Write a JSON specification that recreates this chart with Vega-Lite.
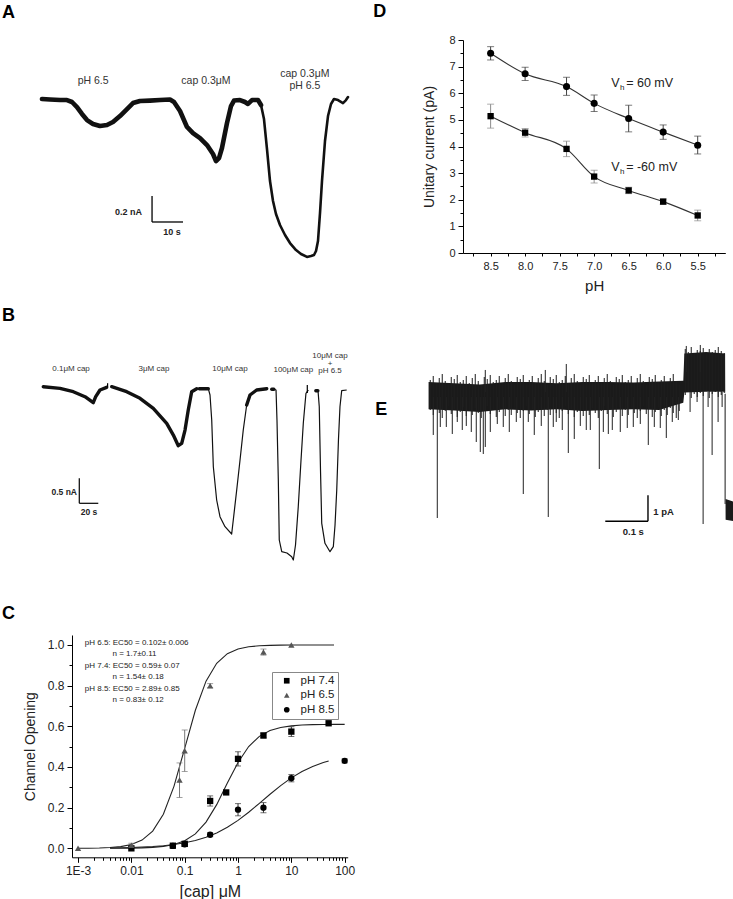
{
  "$schema": "https://vega.github.io/schema/vega-lite/v6.json",
  "background": "white",
  "padding": {"left": 2, "top": 3, "right": 0, "bottom": 0},
  "config": {
    "view": {"stroke": null},
    "font": "Liberation Sans",
    "text": {"font": "Liberation Sans"},
    "axis": {"grid": false, "domainColor": "black", "tickColor": "black", "domainWidth": 1, "tickWidth": 1, "labelColor": "#222", "titleColor": "#222", "titleFontWeight": "normal", "labelFont": "Liberation Sans", "titleFont": "Liberation Sans"},
    "title": {"font": "Liberation Sans", "fontSize": 18, "fontWeight": "bold", "anchor": "start", "frame": "group", "color": "black", "baseline": "alphabetic"}
  },
  "datasets": {
    "A_trace": [
      {"t":0,"I":0},{"t":2.58,"I":-0.004},{"t":5.81,"I":-0.008},{"t":8.06,"I":-0.008},{"t":9.68,"I":-0.023},{"t":11.29,"I":-0.062},{"t":12.9,"I":-0.115},{"t":14.52,"I":-0.162},{"t":16.45,"I":-0.192},{"t":18.71,"I":-0.208},{"t":20.97,"I":-0.2},{"t":22.9,"I":-0.177},{"t":25.16,"I":-0.131},{"t":27.42,"I":-0.077},{"t":29.35,"I":-0.031},{"t":31.61,"I":-0.015},{"t":34.84,"I":-0.012},{"t":38.06,"I":-0.008},{"t":41.29,"I":-0.004},{"t":42.58,"I":-0.023},{"t":44.52,"I":-0.092},{"t":46.77,"I":-0.215},{"t":48.71,"I":-0.262},{"t":50.97,"I":-0.3},{"t":53.23,"I":-0.354},{"t":55.16,"I":-0.423},{"t":56.13,"I":-0.477},{"t":57.1,"I":-0.454},{"t":58.06,"I":-0.377},{"t":59.68,"I":-0.185},{"t":60.97,"I":-0.054},{"t":61.94,"I":-0.012},{"t":63.87,"I":-0.008},{"t":65.48,"I":-0.023},{"t":66.45,"I":-0.038},{"t":67.74,"I":-0.008},{"t":69.68,"I":-0.008},{"t":70.65,"I":-0.046},{"t":71.61,"I":-0.154},{"t":72.58,"I":-0.385},{"t":73.55,"I":-0.631},{"t":74.52,"I":-0.785},{"t":75.48,"I":-0.885},{"t":76.77,"I":-0.969},{"t":78.39,"I":-1.046},{"t":80,"I":-1.108},{"t":81.94,"I":-1.162},{"t":83.55,"I":-1.192},{"t":85.48,"I":-1.215},{"t":86.77,"I":-1.208},{"t":87.74,"I":-1.2},{"t":88.39,"I":-1.169},{"t":89.03,"I":-1.092},{"t":89.68,"I":-0.877},{"t":90.32,"I":-0.631},{"t":91.29,"I":-0.323},{"t":92.26,"I":-0.131},{"t":93.23,"I":-0.038},{"t":94.19,"I":0},{"t":95.48,"I":-0.008},{"t":97.1,"I":-0.031},{"t":98.06,"I":-0.008},{"t":98.71,"I":0.015}
    ],
    "B_trace": [
      {"seg":"s1","w":"thick","t":0.3,"I":0},{"seg":"s1","w":"thick","t":17.9,"I":-0.033},{"seg":"s1","w":"thick","t":31.9,"I":-0.1},{"seg":"s1","w":"thick","t":44.2,"I":-0.2},{"seg":"s1","w":"thick","t":52.9,"I":-0.32},{"seg":"s1","w":"thick","t":55.5,"I":-0.2},{"seg":"s1","w":"thick","t":60,"I":-0.066},{"seg":"s1","w":"thick","t":67,"I":-0.012},
      {"seg":"s2","w":"thick","t":72.3,"I":0},{"seg":"s2","w":"thick","t":88.1,"I":-0.1},{"seg":"s2","w":"thick","t":102.1,"I":-0.233},{"seg":"s2","w":"thick","t":116.1,"I":-0.433},{"seg":"s2","w":"thick","t":130.2,"I":-0.733},{"seg":"s2","w":"thick","t":137.2,"I":-0.967},{"seg":"s2","w":"thick","t":142.4,"I":-1.18},{"seg":"s2","w":"thick","t":146,"I":-1.133},{"seg":"s2","w":"thick","t":149.5,"I":-0.867},{"seg":"s2","w":"thick","t":152.9,"I":-0.467},{"seg":"s2","w":"thick","t":156.5,"I":-0.1},{"seg":"s2","w":"thick","t":161.8,"I":-0.04},
      {"seg":"s3a","w":"thick","t":164.5,"I":-0.04},{"seg":"s3a","w":"thick","t":174,"I":-0.04},
      {"seg":"s3","w":"thin","t":174,"I":-0.04},{"seg":"s3","w":"thin","t":175.8,"I":-0.166},{"seg":"s3","w":"thin","t":177.6,"I":-0.666},{"seg":"s3","w":"thin","t":179.3,"I":-1.6},{"seg":"s3","w":"thin","t":182.8,"I":-2.266},{"seg":"s3","w":"thin","t":186.3,"I":-2.6},{"seg":"s3","w":"thin","t":191.6,"I":-2.8},{"seg":"s3","w":"thin","t":198.6,"I":-2.946},{"seg":"s3","w":"thin","t":200.3,"I":-2.666},{"seg":"s3","w":"thin","t":203.9,"I":-2.066},{"seg":"s3","w":"thin","t":207.4,"I":-1.466},{"seg":"s3","w":"thin","t":210.8,"I":-0.866},{"seg":"s3","w":"thin","t":214.4,"I":-0.366},
      {"seg":"s3b","w":"thick","t":214.4,"I":-0.366},{"seg":"s3b","w":"thick","t":217.9,"I":-0.166},{"seg":"s3b","w":"thick","t":224.9,"I":-0.066},{"seg":"s3b","w":"thick","t":235.5,"I":-0.04},
      {"seg":"s4a","w":"thick","t":240.8,"I":-0.05},{"seg":"s4a","w":"thick","t":243,"I":-0.05},
      {"seg":"s4","w":"thin","t":243,"I":-0.05},{"seg":"s4","w":"thin","t":245.3,"I":-0.066},{"seg":"s4","w":"thin","t":246.3,"I":-0.666},{"seg":"s4","w":"thin","t":247.7,"I":-1.866},{"seg":"s4","w":"thin","t":248.7,"I":-3.066},{"seg":"s4","w":"thin","t":251.3,"I":-3.3},{"seg":"s4","w":"thin","t":256.8,"I":-3.326},{"seg":"s4","w":"thin","t":261.8,"I":-3.4},{"seg":"s4","w":"thin","t":263.5,"I":-3.466},{"seg":"s4","w":"thin","t":265.8,"I":-3.166},{"seg":"s4","w":"thin","t":268.7,"I":-2.4},{"seg":"s4","w":"thin","t":271.6,"I":-1.466},{"seg":"s4","w":"thin","t":274,"I":-0.732},{"seg":"s4","w":"thin","t":276.8,"I":-0.132},{"seg":"s4","w":"thin","t":279.3,"I":-0.066},
      {"seg":"s5a","w":"thick","t":287.2,"I":-0.08},{"seg":"s5a","w":"thick","t":289.3,"I":-0.08},
      {"seg":"s5","w":"thin","t":289.5,"I":-0.08},{"seg":"s5","w":"thin","t":290.8,"I":-0.4},{"seg":"s5","w":"thin","t":292.1,"I":-1.666},{"seg":"s5","w":"thin","t":293.4,"I":-2.732},{"seg":"s5","w":"thin","t":296.8,"I":-3.132},{"seg":"s5","w":"thin","t":302.1,"I":-3.3},{"seg":"s5","w":"thin","t":305.6,"I":-3.2},{"seg":"s5","w":"thin","t":307.4,"I":-2.766},{"seg":"s5","w":"thin","t":309.2,"I":-2.066},{"seg":"s5","w":"thin","t":311,"I":-1.066},{"seg":"s5","w":"thin","t":312.6,"I":-0.4},{"seg":"s5","w":"thin","t":314.4,"I":-0.08},{"seg":"s5","w":"thin","t":319.7,"I":-0.066}
    ],
    "C_curves": [
      {"s":"6.5","c":0.001,"v":0.0004},{"s":"6.5","c":0.001585,"v":0.0008},{"s":"6.5","c":0.002512,"v":0.0018},{"s":"6.5","c":0.003981,"v":0.004},{"s":"6.5","c":0.00631,"v":0.0087},{"s":"6.5","c":0.01,"v":0.019},{"s":"6.5","c":0.01585,"v":0.0405},{"s":"6.5","c":0.02512,"v":0.0845},{"s":"6.5","c":0.03981,"v":0.168},{"s":"6.5","c":0.0631,"v":0.306},{"s":"6.5","c":0.1,"v":0.492},{"s":"6.5","c":0.1585,"v":0.679},{"s":"6.5","c":0.2512,"v":0.822},{"s":"6.5","c":0.3981,"v":0.91},{"s":"6.5","c":0.631,"v":0.957},{"s":"6.5","c":1,"v":0.98},{"s":"6.5","c":1.585,"v":0.991},{"s":"6.5","c":2.512,"v":0.996},{"s":"6.5","c":3.981,"v":0.998},{"s":"6.5","c":6.31,"v":0.999},{"s":"6.5","c":10,"v":1.0},{"s":"6.5","c":15.85,"v":1.0},{"s":"6.5","c":25.12,"v":1.0},{"s":"6.5","c":39.81,"v":1.0},{"s":"6.5","c":63.1,"v":1.0},
      {"s":"7.4","c":0.003981,"v":0.0003},{"s":"7.4","c":0.00631,"v":0.0006},{"s":"7.4","c":0.01,"v":0.0011},{"s":"7.4","c":0.01585,"v":0.0023},{"s":"7.4","c":0.02512,"v":0.0047},{"s":"7.4","c":0.03981,"v":0.0095},{"s":"7.4","c":0.0631,"v":0.0189},{"s":"7.4","c":0.1,"v":0.0372},{"s":"7.4","c":0.1585,"v":0.0712},{"s":"7.4","c":0.2512,"v":0.129},{"s":"7.4","c":0.3981,"v":0.215},{"s":"7.4","c":0.631,"v":0.321},{"s":"7.4","c":1,"v":0.4225},{"s":"7.4","c":1.585,"v":0.5006},{"s":"7.4","c":2.512,"v":0.5508},{"s":"7.4","c":3.981,"v":0.5794},{"s":"7.4","c":6.31,"v":0.5945},{"s":"7.4","c":10,"v":0.6023},{"s":"7.4","c":15.85,"v":0.6062},{"s":"7.4","c":25.12,"v":0.6081},{"s":"7.4","c":39.81,"v":0.609},{"s":"7.4","c":63.1,"v":0.6095},{"s":"7.4","c":100,"v":0.6098},
      {"s":"8.5","c":0.003981,"v":0.002},{"s":"8.5","c":0.00631,"v":0.0029},{"s":"8.5","c":0.01,"v":0.0042},{"s":"8.5","c":0.01585,"v":0.0062},{"s":"8.5","c":0.02512,"v":0.009},{"s":"8.5","c":0.03981,"v":0.013},{"s":"8.5","c":0.0631,"v":0.0189},{"s":"8.5","c":0.1,"v":0.0272},{"s":"8.5","c":0.1585,"v":0.0387},{"s":"8.5","c":0.2512,"v":0.0546},{"s":"8.5","c":0.3981,"v":0.076},{"s":"8.5","c":0.631,"v":0.1036},{"s":"8.5","c":1,"v":0.1377},{"s":"8.5","c":1.585,"v":0.1776},{"s":"8.5","c":2.512,"v":0.2214},{"s":"8.5","c":3.981,"v":0.2661},{"s":"8.5","c":6.31,"v":0.3086},{"s":"8.5","c":10,"v":0.3464},{"s":"8.5","c":15.85,"v":0.378},{"s":"8.5","c":25.12,"v":0.403},{"s":"8.5","c":39.81,"v":0.4221},{"s":"8.5","c":50.12,"v":0.4297}
    ],
    "C_points": [
      {"s":"pH 7.4","c":0.01,"v":0.0},{"s":"pH 7.4","c":0.06,"v":0.013},{"s":"pH 7.4","c":0.1,"v":0.022,"lo":0.01,"hi":0.034},{"s":"pH 7.4","c":0.3,"v":0.233,"lo":0.208,"hi":0.258},{"s":"pH 7.4","c":0.6,"v":0.275},{"s":"pH 7.4","c":1,"v":0.44,"lo":0.405,"hi":0.475},{"s":"pH 7.4","c":3,"v":0.555,"lo":0.543,"hi":0.567},{"s":"pH 7.4","c":10,"v":0.574,"lo":0.55,"hi":0.598},{"s":"pH 7.4","c":50,"v":0.615},
      {"s":"pH 6.5","c":0.001,"v":0.0},{"s":"pH 6.5","c":0.01,"v":0.015,"lo":0.005,"hi":0.025},{"s":"pH 6.5","c":0.08,"v":0.336,"lo":0.25,"hi":0.42},{"s":"pH 6.5","c":0.1,"v":0.48,"lo":0.378,"hi":0.582},{"s":"pH 6.5","c":0.3,"v":0.8,"lo":0.79,"hi":0.81},{"s":"pH 6.5","c":3,"v":0.965,"lo":0.95,"hi":0.98},{"s":"pH 6.5","c":10,"v":1.0},
      {"s":"pH 8.5","c":0.06,"v":0.012},{"s":"pH 8.5","c":0.1,"v":0.02,"lo":0.01,"hi":0.03},{"s":"pH 8.5","c":0.3,"v":0.067,"lo":0.057,"hi":0.077},{"s":"pH 8.5","c":1,"v":0.19,"lo":0.16,"hi":0.22},{"s":"pH 8.5","c":3,"v":0.2,"lo":0.175,"hi":0.225},{"s":"pH 8.5","c":10,"v":0.345,"lo":0.327,"hi":0.363},{"s":"pH 8.5","c":100,"v":0.43,"lo":0.42,"hi":0.44}
    ],
    "D_points": [
      {"s":"up","pH":8.5,"cur":7.5,"lo":7.25,"hi":7.75},{"s":"up","pH":8.0,"cur":6.73,"lo":6.48,"hi":6.98},{"s":"up","pH":7.4,"cur":6.25,"lo":5.92,"hi":6.6},{"s":"up","pH":7.0,"cur":5.62,"lo":5.31,"hi":5.93},{"s":"up","pH":6.5,"cur":5.05,"lo":4.55,"hi":5.55},{"s":"up","pH":6.0,"cur":4.54,"lo":4.27,"hi":4.81},{"s":"up","pH":5.5,"cur":4.05,"lo":3.72,"hi":4.39},
      {"s":"down","pH":8.5,"cur":5.14,"lo":4.69,"hi":5.59},{"s":"down","pH":8.0,"cur":4.52,"lo":4.36,"hi":4.68},{"s":"down","pH":7.4,"cur":3.91,"lo":3.62,"hi":4.2},{"s":"down","pH":7.0,"cur":2.87,"lo":2.63,"hi":3.11},{"s":"down","pH":6.5,"cur":2.35,"lo":2.23,"hi":2.47},{"s":"down","pH":6.0,"cur":1.93,"lo":1.83,"hi":2.03},{"s":"down","pH":5.5,"cur":1.41,"lo":1.21,"hi":1.61}
    ],
    "E_band": [
      {"t":0,"I":0.5,"I2":-0.55},{"t":0.06,"I":0.45,"I2":-0.6},{"t":0.12,"I":0.4,"I2":-0.65},{"t":0.18,"I":0.5,"I2":-0.55},{"t":0.24,"I":0.5,"I2":-0.6},{"t":0.3,"I":0.45,"I2":-0.55},{"t":0.36,"I":0.5,"I2":-0.62},{"t":0.42,"I":0.5,"I2":-0.58},{"t":0.48,"I":0.48,"I2":-0.55},{"t":0.54,"I":0.52,"I2":-0.58},{"t":0.5965,"I":0.55,"I2":-0.3},
      {"t":0.599,"I":1.6,"I2":0.1},{"t":0.65,"I":1.65,"I2":0.12},{"t":0.6944,"I":1.6,"I2":0.12},{"t":0.6956,"I":-4.0,"I2":-4.8},{"t":0.7136,"I":-4.1,"I2":-4.85}
    ],
    "E_texture": [
      {"t":0.004,"I":0.577,"I2":-0.577},{"t":0.011,"I":0.731,"I2":-0.769},{"t":0.018,"I":0.462,"I2":-0.5},{"t":0.0251,"I":0.654,"I2":-0.692},{"t":0.0321,"I":0.808,"I2":-0.885},{"t":0.0391,"I":0.538,"I2":-0.615},{"t":0.0461,"I":0.385,"I2":-0.423},{"t":0.0532,"I":0.692,"I2":-0.731},{"t":0.0602,"I":0.615,"I2":-0.538},{"t":0.0672,"I":0.769,"I2":-0.846},{"t":0.0742,"I":0.5,"I2":-0.654},{"t":0.0813,"I":0.577,"I2":-0.462},{"t":0.0883,"I":0.731,"I2":-0.808},{"t":0.0953,"I":0.462,"I2":-0.577},{"t":0.1024,"I":0.654,"I2":-0.769},{"t":0.1094,"I":0.808,"I2":-0.5},{"t":0.1164,"I":0.538,"I2":-0.692},{"t":0.1234,"I":0.385,"I2":-0.885},{"t":0.1305,"I":0.692,"I2":-0.615},{"t":0.1375,"I":0.615,"I2":-0.423},{"t":0.1445,"I":0.769,"I2":-0.731},{"t":0.1515,"I":0.5,"I2":-0.538},{"t":0.1586,"I":0.577,"I2":-0.846},{"t":0.1656,"I":0.731,"I2":-0.654},{"t":0.1726,"I":0.462,"I2":-0.462},{"t":0.1796,"I":0.654,"I2":-0.808},{"t":0.1867,"I":0.808,"I2":-0.577},{"t":0.1937,"I":0.538,"I2":-0.769},{"t":0.2007,"I":0.385,"I2":-0.5},{"t":0.2077,"I":0.692,"I2":-0.692},{"t":0.2148,"I":0.615,"I2":-0.885},{"t":0.2218,"I":0.769,"I2":-0.615},{"t":0.2288,"I":0.5,"I2":-0.423},{"t":0.2359,"I":0.577,"I2":-0.731},{"t":0.2429,"I":0.731,"I2":-0.538},{"t":0.2499,"I":0.462,"I2":-0.846},{"t":0.2569,"I":0.654,"I2":-0.654},{"t":0.264,"I":0.808,"I2":-0.462},{"t":0.271,"I":0.538,"I2":-0.808},{"t":0.278,"I":0.385,"I2":-0.577},{"t":0.285,"I":0.692,"I2":-0.769},{"t":0.2921,"I":0.615,"I2":-0.5},{"t":0.2991,"I":0.769,"I2":-0.692},{"t":0.3061,"I":0.5,"I2":-0.885},{"t":0.3131,"I":0.577,"I2":-0.615},{"t":0.3202,"I":0.731,"I2":-0.423},{"t":0.3272,"I":0.462,"I2":-0.731},{"t":0.3342,"I":0.654,"I2":-0.538},{"t":0.3412,"I":0.808,"I2":-0.846},{"t":0.3483,"I":0.538,"I2":-0.654},{"t":0.3553,"I":0.385,"I2":-0.462},{"t":0.3623,"I":0.692,"I2":-0.808},{"t":0.3693,"I":0.615,"I2":-0.577},{"t":0.3764,"I":0.769,"I2":-0.769},{"t":0.3834,"I":0.5,"I2":-0.5},{"t":0.3904,"I":0.577,"I2":-0.692},{"t":0.3975,"I":0.731,"I2":-0.885},{"t":0.4045,"I":0.462,"I2":-0.615},{"t":0.4115,"I":0.654,"I2":-0.423},{"t":0.4185,"I":0.808,"I2":-0.731},{"t":0.4256,"I":0.538,"I2":-0.538},{"t":0.4326,"I":0.385,"I2":-0.846},{"t":0.4396,"I":0.692,"I2":-0.654},{"t":0.4466,"I":0.615,"I2":-0.462},{"t":0.4537,"I":0.769,"I2":-0.808},{"t":0.4607,"I":0.5,"I2":-0.577},{"t":0.4677,"I":0.577,"I2":-0.769},{"t":0.4747,"I":0.731,"I2":-0.5},{"t":0.4818,"I":0.462,"I2":-0.692},{"t":0.4888,"I":0.654,"I2":-0.885},{"t":0.4958,"I":0.808,"I2":-0.615},{"t":0.5028,"I":0.538,"I2":-0.423},{"t":0.5099,"I":0.385,"I2":-0.731},{"t":0.5169,"I":0.692,"I2":-0.538},{"t":0.5239,"I":0.615,"I2":-0.846},{"t":0.5309,"I":0.769,"I2":-0.654},{"t":0.538,"I":0.5,"I2":-0.462},{"t":0.545,"I":0.577,"I2":-0.808},{"t":0.552,"I":0.731,"I2":-0.577},{"t":0.559,"I":0.462,"I2":-0.769},{"t":0.5661,"I":0.654,"I2":-0.5},{"t":0.5731,"I":0.808,"I2":-0.692},{"t":0.5801,"I":0.538,"I2":-0.885},{"t":0.5871,"I":0.385,"I2":-0.615},
      {"t":0.6012,"I":1.769,"I2":0},{"t":0.6082,"I":1.654,"I2":0.115},{"t":0.6152,"I":1.846,"I2":-0.115},{"t":0.6222,"I":1.577,"I2":0.038},{"t":0.6293,"I":1.731,"I2":-0.077},{"t":0.6363,"I":1.692,"I2":0.077},{"t":0.6433,"I":1.808,"I2":-0.038},{"t":0.6503,"I":1.615,"I2":0.154},{"t":0.6574,"I":1.769,"I2":-0.115},{"t":0.6644,"I":1.654,"I2":0.038},{"t":0.6714,"I":1.731,"I2":0.115},{"t":0.6785,"I":1.846,"I2":-0.077},{"t":0.6855,"I":1.692,"I2":0},{"t":0.6925,"I":1.615,"I2":0.077}
    ],
    "E_spikes": [
      {"t":0.011,"I":-0.077,"I2":-1.538},{"t":0.0204,"I":-0.077,"I2":-4.731},{"t":0.0274,"I":-0.077,"I2":-1.231},{"t":0.0415,"I":-0.077,"I2":-1.231},{"t":0.0555,"I":-0.077,"I2":-1.5},{"t":0.0672,"I":-0.077,"I2":-1.038},{"t":0.0789,"I":-0.077,"I2":-1.346},{"t":0.0883,"I":-0.077,"I2":-1.192},{"t":0.1,"I":-0.077,"I2":-1.423},{"t":0.1117,"I":-0.077,"I2":-1.808},{"t":0.1211,"I":-0.077,"I2":-2.192},{"t":0.1281,"I":-0.077,"I2":-2.269},{"t":0.1328,"I":-0.077,"I2":-2},{"t":0.1445,"I":-0.077,"I2":-1.423},{"t":0.1609,"I":-0.077,"I2":-1.115},{"t":0.1749,"I":-0.077,"I2":-1.231},{"t":0.189,"I":-0.077,"I2":-1.423},{"t":0.2054,"I":-0.077,"I2":-1.038},{"t":0.2218,"I":-0.077,"I2":-3.808},{"t":0.2335,"I":-0.077,"I2":-1.038},{"t":0.2475,"I":-0.077,"I2":-1.538},{"t":0.2639,"I":-0.077,"I2":-1.192},{"t":0.2803,"I":-0.077,"I2":-4.692},{"t":0.292,"I":-0.077,"I2":-1.231},{"t":0.299,"I":-0.077,"I2":-1.038},{"t":0.3131,"I":-0.077,"I2":-1.346},{"t":0.3272,"I":-0.077,"I2":-2.231},{"t":0.3412,"I":-0.077,"I2":-1.692},{"t":0.3553,"I":-0.077,"I2":-1.192},{"t":0.3693,"I":-0.077,"I2":-1.346},{"t":0.3787,"I":-0.077,"I2":-1.346},{"t":0.3998,"I":-0.077,"I2":-2.846},{"t":0.4092,"I":-0.077,"I2":-1.423},{"t":0.4209,"I":-0.077,"I2":-1.5},{"t":0.4302,"I":-0.077,"I2":-1.346},{"t":0.4489,"I":-0.077,"I2":-1.423},{"t":0.4653,"I":-0.077,"I2":-1.269},{"t":0.4794,"I":-0.077,"I2":-1.231},{"t":0.4958,"I":-0.077,"I2":-1.115},{"t":0.5145,"I":-0.077,"I2":-1.923},{"t":0.5286,"I":-0.077,"I2":-1.231},{"t":0.5426,"I":-0.077,"I2":-1.269},{"t":0.5567,"I":-0.077,"I2":-1.654},{"t":0.5707,"I":-0.077,"I2":-1.038},{"t":0.5848,"I":-0.077,"I2":-0.962},
      {"t":0.6124,"I":0.115,"I2":-0.654},{"t":0.6288,"I":0.115,"I2":-0.269},{"t":0.6429,"I":0.115,"I2":-4.962},{"t":0.6546,"I":0.115,"I2":-0.462},{"t":0.664,"I":0.115,"I2":-2.308},{"t":0.678,"I":0.115,"I2":-1.038},{"t":0.6874,"I":0.115,"I2":-0.462},
      {"t":0.3225,"I":0.115,"I2":1.192},{"t":0.1328,"I":0.115,"I2":0.962},{"t":0.2733,"I":0.115,"I2":0.962},
      {"t":0.6035,"I":0.885,"I2":1.885},{"t":0.6363,"I":0.885,"I2":1.923},
      {"t":0.6944,"I":0.038,"I2":-4.192}
    ]
  },
  "spacing": 18,
  "hconcat": [
    {
      "spacing": 10,
      "vconcat": [
        {
          "title": {"text": "A", "dx": -70, "offset": 18},
          "width": 276, "height": 257,
          "encoding": {
            "x": {"field": "t", "type": "quantitative", "scale": {"domain": [9.68, 98.71], "nice": false, "zero": false}, "axis": null},
            "y": {"field": "I", "type": "quantitative", "scale": {"domain": [-1.523, 0.454], "nice": false, "zero": false}, "axis": null}
          },
          "layer": [
            {"data": {"name": "A_trace"}, "mark": {"type": "line", "color": "#111", "strokeWidth": 2.6, "strokeJoin": "round", "strokeCap": "round"}},
            {"data": {"name": "A_trace"}, "transform": [{"filter": "datum.t <= 70.7"}], "mark": {"type": "line", "color": "#111", "strokeWidth": 4.6, "strokeJoin": "round", "strokeCap": "round"}},
            {"data": {"values": [{"t": 35.5, "I": -0.746, "t2": 35.5, "I2": -0.946}, {"t": 35.5, "I": -0.946, "t2": 45.5, "I2": -0.946}]}, "mark": {"type": "rule", "color": "black", "strokeWidth": 1.3}, "encoding": {"x2": {"field": "t2"}, "y2": {"field": "I2"}}},
            {"data": {"values": [{"label": "pH 6.5", "t": 16.5, "I": 0.138}, {"label": "cap 0.3μM", "t": 52.9, "I": 0.138}, {"label": "cap 0.3μM", "t": 84.8, "I": 0.192}, {"label": "pH 6.5", "t": 84.8, "I": 0.1}]}, "mark": {"type": "text", "fontSize": 10.5, "color": "#333", "baseline": "middle"}, "encoding": {"text": {"field": "label"}}},
            {"data": {"values": [{"label": "0.2 nA", "t": 32.26, "I": -0.869}]}, "mark": {"type": "text", "fontSize": 9, "fontWeight": "bold", "color": "#222", "align": "right", "baseline": "middle"}, "encoding": {"text": {"field": "label"}}},
            {"data": {"values": [{"label": "10 s", "t": 41.94, "I": -1.023}]}, "mark": {"type": "text", "fontSize": 9, "fontWeight": "bold", "color": "#222", "align": "center", "baseline": "middle"}, "encoding": {"text": {"field": "label"}}}
          ]
        },
        {
          "title": {"text": "B", "dx": -70, "offset": 5},
          "width": 276, "height": 264.5,
          "encoding": {
            "x": {"field": "t", "type": "quantitative", "scale": {"domain": [30.53, 321.05], "nice": false, "zero": false}, "axis": null},
            "y": {"field": "I", "type": "quantitative", "scale": {"domain": [-4.156, 1.134], "nice": false, "zero": false}, "axis": null}
          },
          "layer": [
            {"data": {"name": "B_trace"}, "transform": [{"filter": "datum.w == 'thin'"}], "mark": {"type": "line", "color": "#111", "strokeWidth": 1.2, "strokeJoin": "round"}, "encoding": {"detail": {"field": "seg"}}},
            {"data": {"name": "B_trace"}, "transform": [{"filter": "datum.w == 'thick'"}], "mark": {"type": "line", "color": "#111", "strokeWidth": 3.4, "strokeJoin": "round", "strokeCap": "round"}, "encoding": {"detail": {"field": "seg"}}},
            {"data": {"values": [{"t": 68, "I": 0.07, "t2": 68, "I2": -0.01}, {"t": 278.2, "I": 0.034, "t2": 278.2, "I2": -0.126}, {"t": 38.2, "I": -1.832, "t2": 38.2, "I2": -2.332}, {"t": 38.2, "I": -2.332, "t2": 58.2, "I2": -2.332}]}, "mark": {"type": "rule", "color": "black", "strokeWidth": 1.2}, "encoding": {"x2": {"field": "t2"}, "y2": {"field": "I2"}}},
            {"data": {"values": [{"label": "0.1μM cap", "t": 29.5, "I": 0.354}, {"label": "3μM cap", "t": 116.8, "I": 0.354}, {"label": "10μM cap", "t": 196.8, "I": 0.354}, {"label": "100μM cap", "t": 263.5, "I": 0.334}, {"label": "10μM cap", "t": 302.1, "I": 0.614}, {"label": "+", "t": 302.1, "I": 0.464}, {"label": "pH 6.5", "t": 302.1, "I": 0.314}]}, "mark": {"type": "text", "fontSize": 8, "color": "#333", "baseline": "middle"}, "encoding": {"text": {"field": "label"}}},
            {"data": {"values": [{"label": "0.5 nA", "t": 35.8, "I": -2.106}]}, "mark": {"type": "text", "fontSize": 8.5, "fontWeight": "bold", "color": "#222", "align": "right", "baseline": "middle"}, "encoding": {"text": {"field": "label"}}},
            {"data": {"values": [{"label": "20 s", "t": 48.4, "I": -2.506}]}, "mark": {"type": "text", "fontSize": 8.5, "fontWeight": "bold", "color": "#222", "align": "center", "baseline": "middle"}, "encoding": {"text": {"field": "label"}}}
          ]
        },
        {
          "title": {"text": "C", "dx": -70, "offset": 12},
          "width": 275.7, "height": 222.3,
          "encoding": {
            "x": {"field": "c", "type": "quantitative", "scale": {"type": "log", "domain": [0.00077, 114], "nice": false},
              "axis": {"values": [0.001,0.002,0.003,0.004,0.005,0.006,0.007,0.008,0.009,0.01,0.02,0.03,0.04,0.05,0.06,0.07,0.08,0.09,0.1,0.2,0.3,0.4,0.5,0.6,0.7,0.8,0.9,1,2,3,4,5,6,7,8,9,10,20,30,40,50,60,70,80,90,100],
                "labelExpr": "datum.value == 0.001 ? '1E-3' : datum.value == 0.01 ? '0.01' : datum.value == 0.1 ? '0.1' : datum.value == 1 ? '1' : datum.value == 10 ? '10' : datum.value == 100 ? '100' : ''",
                "tickSize": {"condition": {"test": "indexof([0.001,0.01,0.1,1,10,100], datum.value) >= 0", "value": 5}, "value": 3},
                "labelOverlap": false, "labelFlush": false, "labelFontSize": 12, "labelPadding": 3, "title": "[cap] μM", "titleFontSize": 16, "titlePadding": 7}},
            "y": {"field": "v", "type": "quantitative", "scale": {"domain": [-0.044, 1.049], "nice": false, "zero": false},
              "axis": {"values": [0,0.1,0.2,0.3,0.4,0.5,0.6,0.7,0.8,0.9,1.0],
                "labelExpr": "round(datum.value*10) % 2 == 0 ? format(datum.value, '.1f') : ''",
                "tickSize": {"condition": {"test": "round(datum.value*10) % 2 == 0", "value": 5}, "value": 3},
                "labelOverlap": false, "labelFontSize": 12, "labelPadding": 3, "title": "Channel Opening", "titleFontSize": 14, "titlePadding": 10}}
          },
          "layer": [
            {"data": {"name": "C_curves"}, "mark": {"type": "line", "color": "#222", "strokeWidth": 1.1}, "encoding": {"detail": {"field": "s"}}},
            {"data": {"name": "C_points"}, "transform": [{"filter": "isValid(datum.lo) && datum.s != 'pH 6.5'"}], "mark": {"type": "rule", "strokeWidth": 1, "color": "#333"}, "encoding": {"y": {"field": "lo"}, "y2": {"field": "hi"}}},
            {"data": {"name": "C_points"}, "transform": [{"filter": "isValid(datum.lo) && datum.s == 'pH 6.5'"}], "mark": {"type": "rule", "strokeWidth": 1, "color": "#777"}, "encoding": {"y": {"field": "lo"}, "y2": {"field": "hi"}}},
            {"data": {"name": "C_points"}, "transform": [{"filter": "isValid(datum.lo) && datum.s != 'pH 6.5'"}, {"fold": ["lo", "hi"], "as": ["k", "cap"]}], "mark": {"type": "tick", "orient": "horizontal", "size": 6, "thickness": 1, "color": "#333"}, "encoding": {"y": {"field": "cap"}}},
            {"data": {"name": "C_points"}, "transform": [{"filter": "isValid(datum.lo) && datum.s == 'pH 6.5'"}, {"fold": ["lo", "hi"], "as": ["k", "cap"]}], "mark": {"type": "tick", "orient": "horizontal", "size": 6, "thickness": 1, "color": "#777"}, "encoding": {"y": {"field": "cap"}}},
            {"data": {"name": "C_points"}, "mark": {"type": "point", "filled": true, "opacity": 1, "size": 40},
              "encoding": {
                "shape": {"field": "s", "type": "nominal", "scale": {"domain": ["pH 7.4", "pH 6.5", "pH 8.5"], "range": ["square", "triangle-up", "circle"]}, "legend": {"orient": "none", "legendX": 200, "legendY": 632, "title": null, "strokeColor": "#888", "fillColor": "white", "padding": 3, "labelFontSize": 11.5, "labelColor": "#222", "symbolSize": 32, "rowPadding": 1.5, "symbolOffset": 6, "labelOffset": 8}},
                "fill": {"field": "s", "type": "nominal", "scale": {"domain": ["pH 7.4", "pH 6.5", "pH 8.5"], "range": ["#000000", "#555555", "#000000"]}, "legend": {"orient": "none", "legendX": 200, "legendY": 632, "title": null, "strokeColor": "#888", "fillColor": "white", "padding": 3, "labelFontSize": 11.5, "labelColor": "#222", "symbolSize": 32, "rowPadding": 1.5, "symbolOffset": 6, "labelOffset": 8}}
              }},
            {"data": {"values": [
              {"c": 0.001336, "v": 1.0115, "txt": "pH 6.5: EC50 = 0.102± 0.006"},
              {"c": 0.00442, "v": 0.955, "txt": "n = 1.7±0.11"},
              {"c": 0.001336, "v": 0.898, "txt": "pH 7.4: EC50 = 0.59± 0.07"},
              {"c": 0.00442, "v": 0.842, "txt": "n = 1.54± 0.18"},
              {"c": 0.001336, "v": 0.785, "txt": "pH 8.5: EC50 = 2.89± 0.85"},
              {"c": 0.00442, "v": 0.729, "txt": "n = 0.83± 0.12"}
            ]}, "mark": {"type": "text", "font": "Liberation Sans Narrow, Liberation Sans", "fontSize": 8, "color": "#222", "align": "left", "baseline": "middle"}, "encoding": {"text": {"field": "txt"}}}
          ]
        }
      ]
    },
    {
      "spacing": 49,
      "vconcat": [
        {
          "title": {"text": "D", "dx": -89.7, "offset": 13},
          "width": 262.3, "height": 213,
          "encoding": {
            "x": {"field": "pH", "type": "quantitative", "scale": {"domain": [5.1, 8.9], "reverse": true, "nice": false, "zero": false},
              "axis": {"values": [8.75,8.5,8.25,8,7.75,7.5,7.25,7,6.75,6.5,6.25,6,5.75,5.5,5.25],
                "labelExpr": "(datum.value*2) % 1 == 0 ? format(datum.value, '.1f') : ''",
                "tickSize": 3, "labelOverlap": false, "labelFontSize": 11, "labelPadding": 4, "title": "pH", "titleFontSize": 15, "titlePadding": 7}},
            "y": {"field": "cur", "type": "quantitative", "scale": {"domain": [0, 8], "nice": false, "zero": false},
              "axis": {"values": [0,0.5,1,1.5,2,2.5,3,3.5,4,4.5,5,5.5,6,6.5,7,7.5,8],
                "labelExpr": "datum.value % 1 == 0 ? format(datum.value, 'd') : ''",
                "tickSize": {"condition": {"test": "datum.value % 1 == 0", "value": 5}, "value": 3},
                "labelOverlap": false, "labelFontSize": 11, "labelPadding": 3, "title": "Unitary current (pA)", "titleFontSize": 14, "titlePadding": 12}}
          },
          "layer": [
            {"data": {"name": "D_points"}, "mark": {"type": "line", "color": "#333", "strokeWidth": 1.1, "interpolate": "monotone"}, "encoding": {"detail": {"field": "s"}}},
            {"data": {"name": "D_points"}, "transform": [{"filter": "datum.s == 'up'"}], "mark": {"type": "rule", "strokeWidth": 1, "color": "#444"}, "encoding": {"y": {"field": "lo"}, "y2": {"field": "hi"}}},
            {"data": {"name": "D_points"}, "transform": [{"filter": "datum.s == 'down'"}], "mark": {"type": "rule", "strokeWidth": 1, "color": "#8c8c8c"}, "encoding": {"y": {"field": "lo"}, "y2": {"field": "hi"}}},
            {"data": {"name": "D_points"}, "transform": [{"filter": "datum.s == 'up'"}, {"fold": ["lo", "hi"], "as": ["k", "cap"]}], "mark": {"type": "tick", "orient": "horizontal", "size": 7, "thickness": 1, "color": "#444"}, "encoding": {"y": {"field": "cap"}}},
            {"data": {"name": "D_points"}, "transform": [{"filter": "datum.s == 'down'"}, {"fold": ["lo", "hi"], "as": ["k", "cap"]}], "mark": {"type": "tick", "orient": "horizontal", "size": 7, "thickness": 1, "color": "#8c8c8c"}, "encoding": {"y": {"field": "cap"}}},
            {"data": {"name": "D_points"}, "transform": [{"filter": "datum.s == 'up'"}], "mark": {"type": "point", "shape": "circle", "filled": true, "opacity": 1, "color": "black", "size": 50}},
            {"data": {"name": "D_points"}, "transform": [{"filter": "datum.s == 'down'"}], "mark": {"type": "point", "shape": "square", "filled": true, "opacity": 1, "color": "black", "size": 40}},
            {"data": {"values": [{"pH": 6.752, "cur": 6.39, "txt": "V"}, {"pH": 6.536, "cur": 6.39, "txt": "= 60 mV"}, {"pH": 6.752, "cur": 3.233, "txt": "V"}, {"pH": 6.536, "cur": 3.233, "txt": "= -60 mV"}]}, "mark": {"type": "text", "fontSize": 12.5, "color": "#222", "align": "left", "baseline": "middle"}, "encoding": {"text": {"field": "txt"}}},
            {"data": {"values": [{"pH": 6.625, "cur": 6.2, "txt": "h"}, {"pH": 6.625, "cur": 3.043, "txt": "h"}]}, "mark": {"type": "text", "fontSize": 8, "color": "#222", "align": "left", "baseline": "middle"}, "encoding": {"text": {"field": "txt"}}}
          ]
        },
        {
          "title": {"text": "E", "dx": -87.7, "offset": 0, "dy": 77},
          "width": 270.3, "height": 200,
          "encoding": {
            "x": {"field": "t", "type": "quantitative", "scale": {"domain": [0.0806, 0.7136], "nice": false, "zero": false}, "axis": null},
            "y": {"field": "I", "type": "quantitative", "scale": {"domain": [-5.654, 2.038], "nice": false, "zero": false}, "axis": null}
          },
          "layer": [
            {"data": {"name": "E_band"}, "mark": {"type": "area", "color": "#1a1a1a", "opacity": 1}, "encoding": {"y2": {"field": "I2"}}},
            {"data": {"name": "E_texture"}, "mark": {"type": "rule", "color": "#1e1e1e", "strokeWidth": 1.2, "opacity": 0.85}, "encoding": {"y2": {"field": "I2"}}},
            {"data": {"name": "E_spikes"}, "mark": {"type": "rule", "color": "#222", "strokeWidth": 1}, "encoding": {"y2": {"field": "I2"}}},
            {"data": {"values": [{"t": 0.5138, "I": -3.858, "t2": 0.5138, "I2": -4.858}, {"t": 0.4138, "I": -4.858, "t2": 0.5138, "I2": -4.858}]}, "mark": {"type": "rule", "color": "black", "strokeWidth": 1.4}, "encoding": {"x2": {"field": "t2"}, "y2": {"field": "I2"}}},
            {"data": {"values": [{"label": "1 pA", "t": 0.5262, "I": -4.5}]}, "mark": {"type": "text", "fontSize": 9.5, "fontWeight": "bold", "color": "#222", "align": "left", "baseline": "middle"}, "encoding": {"text": {"field": "label"}}},
            {"data": {"values": [{"label": "0.1 s", "t": 0.4794, "I": -5.269}]}, "mark": {"type": "text", "fontSize": 9.5, "fontWeight": "bold", "color": "#222", "align": "center", "baseline": "middle"}, "encoding": {"text": {"field": "label"}}}
          ]
        }
      ]
    }
  ]
}
